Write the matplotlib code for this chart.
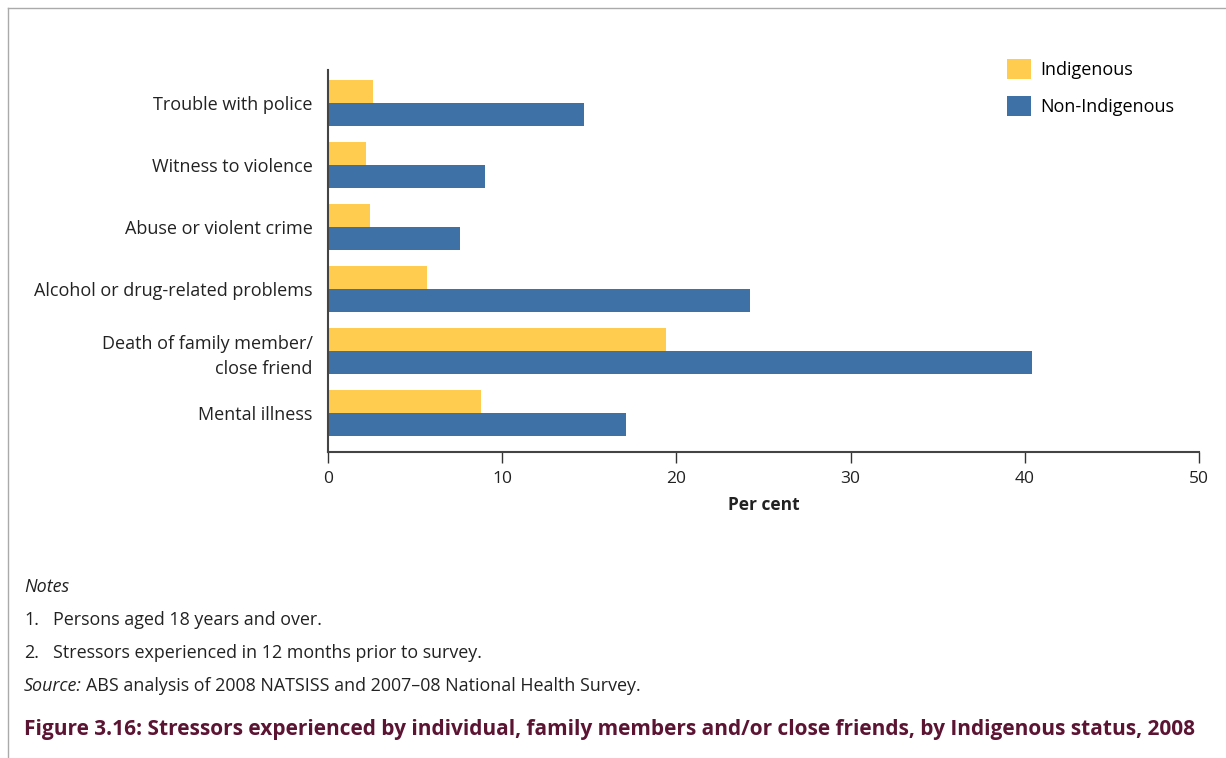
import matplotlib
matplotlib.use("Agg")
import matplotlib.pyplot as plt
from matplotlib.patches import Patch
from matplotlib.lines import Line2D
import numpy as np

categories = ["Mental illness", "Death of family member/\nclose friend",
              "Alcohol or drug-related problems", "Abuse or violent crime",
              "Witness to violence", "Trouble with police"]
indigenous = [8.8, 19.4, 5.7, 2.4, 2.2, 2.6]
non_indigenous = [17.1, 40.4, 24.2, 7.6, 9.0, 14.7]
xticks = [0, 10, 20, 30, 40, 50]
series_names = ["Indigenous", "Non-Indigenous"]

YELLOW = "#FFCC50"
BLUE = "#3E71A6"
FONT = "Open Sans"
plt.rcParams["font.family"] = [FONT, "DejaVu Sans"]

fig = plt.figure(figsize=(12.26, 7.58), dpi=100)
ax = fig.add_axes([328/1226, 1-452/758, (1199-328)/1226, (452-70)/758])

y = np.arange(len(categories))
h = 0.37
ax.barh(y + h/2, indigenous, height=h, color=YELLOW, label=series_names[0])
ax.barh(y - h/2, non_indigenous, height=h, color=BLUE, label=series_names[1])

ax.set_xlim(0, 50)
ax.set_ylim(-0.63, 5.53)
ax.set_xticks(xticks)
ax.set_xticklabels([str(t) for t in xticks], fontsize=12.5, color="#222222")
ax.set_yticks(y)
ax.set_yticklabels(categories, fontsize=13, color="#222222", linespacing=1.5)
ax.tick_params(axis="y", length=0, pad=11)
ax.tick_params(axis="x", length=8, width=1, color="#333333", pad=6)
for s in ["top", "right"]:
    ax.spines[s].set_visible(False)
for s in ["left", "bottom"]:
    ax.spines[s].set_color("#444444")
    ax.spines[s].set_linewidth(1.5)
ax.set_xlabel("Per cent", fontsize=12.5, fontweight="bold", color="#222222", labelpad=6)

leg_handles = [Patch(facecolor=YELLOW, edgecolor="none"), Patch(facecolor=BLUE, edgecolor="none")]
fig.legend(leg_handles, series_names, loc="upper left", bbox_to_anchor=(991/1226, 1-43/758),
           frameon=False, fontsize=13, handlelength=1.3, handleheight=1.3,
           handletextpad=0.55, labelspacing=0.95)

# Frame lines
fig.add_artist(Line2D([8/1226, 8/1226], [0, 1-8/758], transform=fig.transFigure, color="#aaaaaa", lw=1))
fig.add_artist(Line2D([8/1226, 1226/1226], [1-8/758, 1-8/758], transform=fig.transFigure, color="#aaaaaa", lw=1))

tc = "#222222"
fs = 12.9
fig.text(24/1226, 1-587/758, "Notes", fontsize=fs, style="italic", color=tc, va="center")
fig.text(24/1226, 1-620/758, "1.", fontsize=fs, color=tc, va="center")
fig.text(53/1226, 1-620/758, "Persons aged 18 years and over.", fontsize=fs, color=tc, va="center")
fig.text(24/1226, 1-653/758, "2.", fontsize=fs, color=tc, va="center")
fig.text(53/1226, 1-653/758, "Stressors experienced in 12 months prior to survey.", fontsize=fs, color=tc, va="center")
t1 = fig.text(24/1226, 1-686/758, "Source:", fontsize=fs, style="italic", color=tc, va="center")
fig.canvas.draw()
bb = t1.get_window_extent()
fig.text((bb.x1 + 4)/1226, 1-686/758, "ABS analysis of 2008 NATSISS and 2007\u201308 National Health Survey.",
         fontsize=fs, color=tc, va="center")

title = fig.text(24/1226, 1-730/758,
                 "Figure 3.16: Stressors experienced by individual, family members and/or close friends, by Indigenous status, 2008",
                 fontsize=15, fontweight="bold", color="#5C1433", va="center")
fig.canvas.draw()
w = title.get_window_extent().width
title.set_fontsize(15 * (1198-24) / w)

fig.savefig("out.png", dpi=100)
